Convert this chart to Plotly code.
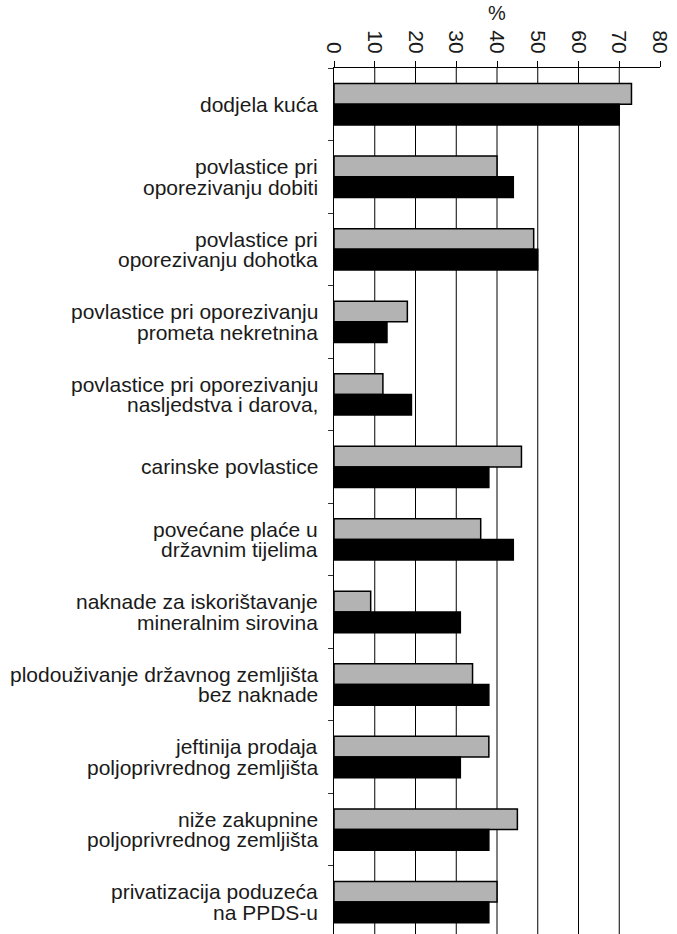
"""
Horizontal grouped bar chart with the % axis on top
"""
import plotly.graph_objects as go

# each label is split into its printed lines
label_lines = [
    ["dodjela kuća"],
    ["povlastice pri", "oporezivanju dobiti"],
    ["povlastice pri", "oporezivanju dohotka"],
    ["povlastice pri oporezivanju", "prometa nekretnina"],
    ["povlastice pri oporezivanju", "nasljedstva i darova,"],
    ["carinske povlastice"],
    ["povećane plaće u", "državnim tijelima"],
    ["naknade za iskorištavanje", "mineralnim sirovina"],
    ["plodouživanje državnog zemljišta", "bez naknade"],
    ["jeftinija prodaja", "poljoprivrednog zemljišta"],
    ["niže zakupnine", "poljoprivrednog zemljišta"],
    ["privatizacija poduzeća", "na PPDS-u"],
]
grey_values = [73, 40, 49, 18, 12, 46, 36, 9, 34, 38, 45, 40]
black_values = [70, 44, 50, 13, 19, 38, 44, 31, 38, 31, 38, 38]
x_ticks = [0, 10, 20, 30, 40, 50, 60, 70, 80]
grid_values = [10, 20, 30, 40, 50, 60, 70]

categories = [" ".join(lines) for lines in label_lines]

FONT = "Liberation Sans, Arial, sans-serif"
TEXT = "#1a1a1a"

fig = go.Figure()

# grey series on top of each pair, black below
fig.add_trace(go.Bar(
    y=categories, x=grey_values, orientation="h", name="grey",
    marker=dict(color="#b3b3b3", line=dict(color="black", width=1.5)),
))
fig.add_trace(go.Bar(
    y=categories, x=black_values, orientation="h", name="black",
    marker=dict(color="black", line=dict(color="black", width=1.5)),
))

# vertical grid lines (none at the 80 edge)
for v in grid_values:
    fig.add_shape(type="line", xref="x", yref="paper", x0=v, x1=v, y0=0, y1=1,
                  line=dict(color="black", width=1), layer="below")

# category labels, one annotation per line to get the tight line spacing
line_gap = 20.5
for cat, lines in zip(categories, label_lines):
    n = len(lines)
    for i, line in enumerate(lines):
        fig.add_annotation(
            text=line, xref="paper", x=0, xanchor="right", xshift=-14,
            yref="y", y=cat, yanchor="middle",
            yshift=((n - 1) / 2 - i) * line_gap,
            showarrow=False, font=dict(size=21, family=FONT, color=TEXT),
        )

fig.update_layout(
    width=677, height=934,
    margin=dict(l=334, r=17, t=68, b=0),
    barmode="group", bargap=0.43, bargroupgap=0,
    showlegend=False,
    plot_bgcolor="white", paper_bgcolor="white",
    font=dict(family=FONT, color=TEXT, size=20),
)

fig.update_xaxes(
    side="top", range=[0, 80], tickvals=x_ticks,
    ticks="outside", ticklen=6, tickcolor="black",
    showline=True, linecolor="black", linewidth=1,
    tickangle=90, tickfont=dict(size=21, family=FONT, color=TEXT),
    title=dict(text="%", font=dict(size=20, family=FONT, color=TEXT), standoff=4),
    showgrid=False, zeroline=False, automargin=False,
)
fig.update_yaxes(
    range=[11.44, -0.5],
    ticks="outside", tickson="boundaries", ticklen=5, tickcolor="#333",
    showline=True, linecolor="black", linewidth=1,
    showticklabels=False,
    showgrid=False, zeroline=False, automargin=False,
)

# drop the default page margin so the figure sits at the window's corner
fig.write_html("out.html", config={"displayModeBar": False},
               post_script="document.body.style.margin='0';")
